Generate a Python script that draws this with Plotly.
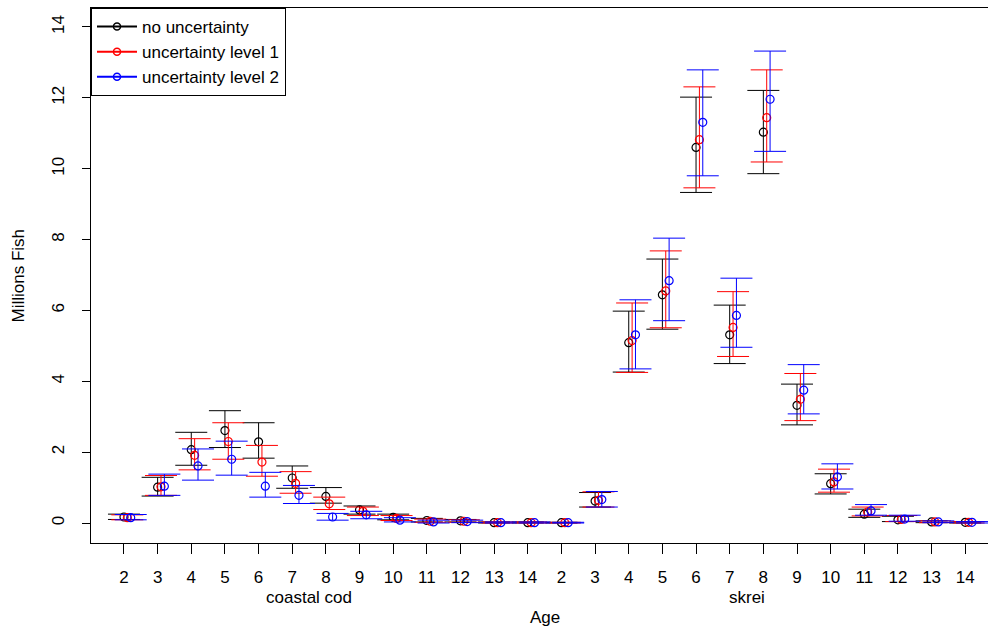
import plotly.graph_objects as go

# ---- data ----
ages = [2, 3, 4, 5, 6, 7, 8, 9, 10, 11, 12, 13, 14]
groups = ["coastal cod", "skrei"]
tick_labels = [str(a) for a in ages] * 2
series_names = ["no uncertainty", "uncertainty level 1", "uncertainty level 2"]

# values for coastal cod ages 2..14 followed by skrei ages 2..14 (millions)
no_unc_val = [0.17, 1.01, 2.07, 2.61, 2.29, 1.27, 0.75, 0.37, 0.16, 0.07, 0.06, 0.01, 0.01,
              0.01, 0.62, 5.09, 6.44, 10.60, 5.31, 11.03, 3.32, 1.11, 0.25, 0.09, 0.03, 0.02]
no_unc_lo = [0.10, 0.76, 1.63, 2.13, 1.83, 0.98, 0.56, 0.25, 0.09, 0.03, 0.03, 0.00, 0.00,
             0.00, 0.45, 4.26, 5.47, 9.33, 4.50, 9.86, 2.77, 0.82, 0.16, 0.04, 0.01, 0.00]
no_unc_hi = [0.25, 1.29, 2.56, 3.17, 2.83, 1.61, 1.00, 0.48, 0.25, 0.13, 0.10, 0.03, 0.03,
             0.02, 0.86, 5.98, 7.45, 12.02, 6.15, 12.21, 3.92, 1.39, 0.39, 0.19, 0.06, 0.03]

lvl1_val = [0.15, 1.02, 1.91, 2.30, 1.72, 1.12, 0.54, 0.33, 0.13, 0.05, 0.05, 0.01, 0.01,
            0.01, 0.64, 5.15, 6.55, 10.82, 5.52, 11.44, 3.49, 1.16, 0.31, 0.10, 0.03, 0.02]
lvl1_lo = [0.09, 0.78, 1.50, 1.80, 1.32, 0.84, 0.38, 0.21, 0.07, 0.02, 0.02, 0.00, 0.00,
           0.00, 0.45, 4.25, 5.51, 9.46, 4.70, 10.19, 2.89, 0.87, 0.20, 0.04, 0.01, 0.00]
lvl1_hi = [0.23, 1.34, 2.38, 2.83, 2.19, 1.45, 0.73, 0.45, 0.21, 0.11, 0.09, 0.03, 0.03,
           0.02, 0.88, 6.21, 7.68, 12.31, 6.53, 12.79, 4.22, 1.52, 0.45, 0.21, 0.06, 0.04]

lvl2_val = [0.15, 1.04, 1.61, 1.80, 1.04, 0.78, 0.17, 0.23, 0.08, 0.03, 0.04, 0.01, 0.01,
            0.01, 0.66, 5.31, 6.84, 11.31, 5.86, 11.96, 3.75, 1.30, 0.34, 0.11, 0.03, 0.02]
lvl2_lo = [0.09, 0.78, 1.21, 1.35, 0.73, 0.55, 0.08, 0.12, 0.03, 0.00, 0.01, 0.00, 0.00,
           0.00, 0.45, 4.35, 5.71, 9.80, 4.96, 10.49, 3.08, 0.96, 0.22, 0.05, 0.01, 0.00]
lvl2_hi = [0.24, 1.38, 2.09, 2.31, 1.43, 1.06, 0.27, 0.33, 0.15, 0.08, 0.08, 0.03, 0.03,
           0.02, 0.89, 6.30, 8.04, 12.79, 6.91, 13.32, 4.47, 1.67, 0.52, 0.22, 0.06, 0.04]

# ---- style ----
colors = ["black", "#FF0000", "#0000FF"]
offsets = [0.0, 0.1, 0.2]
FONT = "Liberation Sans, Arial, Helvetica, sans-serif"
FS = 17

positions = list(range(1, len(tick_labels) + 1))
series = [(no_unc_val, no_unc_lo, no_unc_hi),
          (lvl1_val, lvl1_lo, lvl1_hi),
          (lvl2_val, lvl2_lo, lvl2_hi)]

fig = go.Figure()
for name, col, off, (v, lo, hi) in zip(series_names, colors, offsets, series):
    fig.add_trace(go.Scatter(
        x=[p + off for p in positions], y=v, mode="markers", showlegend=False,
        name=name,
        marker=dict(symbol="circle-open", size=8, color=col, line=dict(width=1.2, color=col)),
        error_y=dict(type="data", symmetric=False,
                     array=[h - a for h, a in zip(hi, v)],
                     arrayminus=[a - l for a, l in zip(v, lo)],
                     color=col, thickness=1, width=16),
    ))
# legend entries (line + circle)
for name, col in zip(series_names, colors):
    fig.add_trace(go.Scatter(
        x=[None], y=[None], mode="lines+markers", name=name,
        line=dict(color=col, width=2),
        marker=dict(symbol="circle-open", size=7, color=col, line=dict(width=1.5, color=col)),
    ))

fig.update_layout(
    width=988, height=628,
    margin=dict(l=91, r=0, t=8, b=85),
    paper_bgcolor="white", plot_bgcolor="white",
    font=dict(family=FONT, size=FS, color="black"),
    showlegend=True,
    legend=dict(x=0, y=1, xanchor="left", yanchor="top",
                bordercolor="black", borderwidth=1, bgcolor="white",
                font=dict(size=FS), tracegroupgap=0, itemwidth=40),
    xaxis=dict(range=[0.02, 26.676], tickmode="array", tickvals=positions, ticktext=tick_labels,
               showgrid=False, zeroline=False, showline=True, mirror=True,
               linecolor="black", linewidth=1, ticks="outside", ticklen=10,
               tickcolor="black", tickwidth=1, ticklabelstandoff=9),
    yaxis=dict(range=[-0.5645, 14.536], tickmode="array", tickvals=[0, 2, 4, 6, 8, 10, 12, 14],
               showgrid=False, zeroline=False, showline=True, mirror=False,
               linecolor="black", linewidth=1, ticks="outside", ticklen=8,
               tickcolor="black", tickwidth=1, tickangle=-90, ticklabelstandoff=11),
)

ann = [
    dict(text=groups[0], x=6.5, xref="x", y=0, yref="paper", yanchor="middle",
         yshift=-54, showarrow=False),
    dict(text=groups[1], x=19.5, xref="x", y=0, yref="paper", yanchor="middle",
         yshift=-54, showarrow=False),
    dict(text="Age", x=13.5, xref="x", y=0, yref="paper", yanchor="middle",
         yshift=-74, showarrow=False),
    dict(text="Millions Fish", x=0, xref="paper", xanchor="center", xshift=-73,
         y=0.5, yref="paper", yanchor="middle", textangle=-90, showarrow=False),
]
fig.update_layout(annotations=ann)

fig.write_html("out.html", config={"displayModeBar": False},
               post_script="document.body.style.margin='0';document.body.style.overflow='hidden';")
